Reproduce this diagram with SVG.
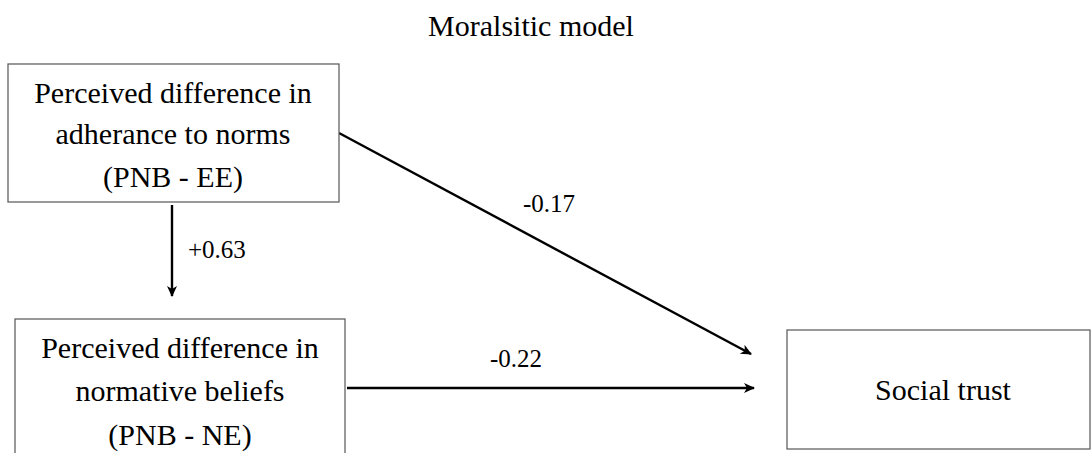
<svg xmlns="http://www.w3.org/2000/svg" width="1091" height="453" viewBox="0 0 1091 453">
<style>
text{font-family:'Liberation Serif','DejaVu Serif',serif;fill:#000;}
.n{font-size:30px;text-anchor:middle;}
.l{font-size:25px;}
.t{font-size:30px;text-anchor:middle;}
.box{fill:#fff;stroke:#555;stroke-width:1.2;}
.c{stroke:#000;stroke-width:2.4;fill:none;}
</style>
<defs>
<marker id="ah" markerWidth="12" markerHeight="12" refX="10" refY="6" orient="auto" markerUnits="userSpaceOnUse">
<path d="M0,1 L11,6 L0,11 L3,6 Z" fill="#000"/>
</marker>
</defs>
<rect width="1091" height="453" fill="#fff"/>
<g font-family="Liberation Serif, serif">
<text x="531" y="36" class="t">Moralsitic model</text>
<g id="connectors">
<line class="c" x1="172" y1="205" x2="172" y2="296" marker-end="url(#ah)"/>
<line class="c" x1="339" y1="133" x2="751" y2="354" marker-end="url(#ah)"/>
<line class="c" x1="347" y1="388" x2="754" y2="388" marker-end="url(#ah)"/>
<text x="188" y="258" class="l">+0.63</text>
<text x="523" y="212" class="l">-0.17</text>
<text x="490" y="367" class="l">-0.22</text>
</g>
<g id="node-adherence">
<rect class="box" x="8" y="64" width="331" height="138"/>
<text class="n" x="173" y="103">Perceived difference in</text>
<text class="n" x="173" y="144">adherance to norms</text>
<text class="n" x="173" y="187">(PNB - EE)</text>
</g>
<g id="node-beliefs">
<rect class="box" x="15" y="319" width="330" height="150"/>
<text class="n" x="180" y="358">Perceived difference in</text>
<text class="n" x="180" y="401">normative beliefs</text>
<text class="n" x="180" y="445">(PNB - NE)</text>
</g>
<g id="node-trust">
<rect class="box" x="787" y="330" width="303" height="119"/>
<text class="n" x="943" y="400">Social trust</text>
</g>
</g>
</svg>
